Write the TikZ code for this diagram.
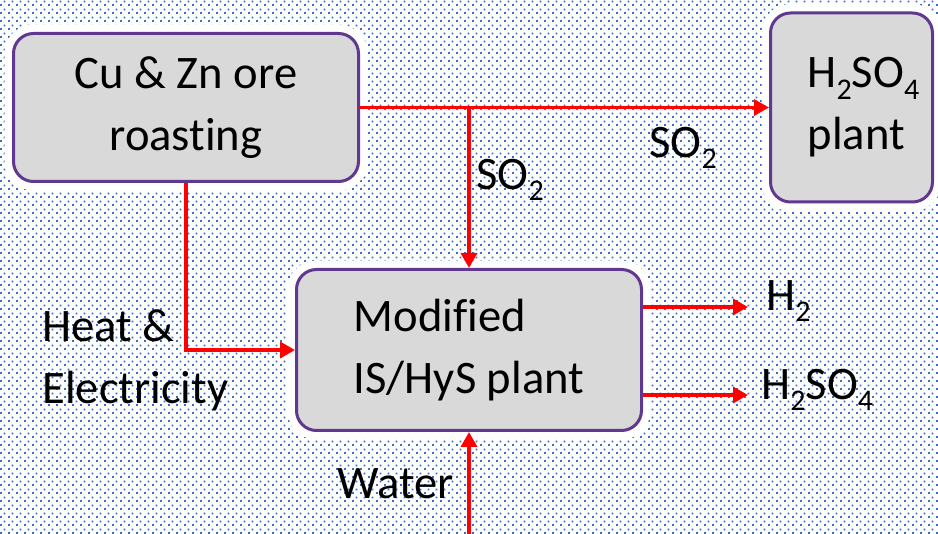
\documentclass[tikz,border=0pt]{standalone}
\usepackage{fontspec}
\setmainfont{Carlito}[Ligatures={NoCommon,NoContextual}]
\usepackage{tikz}
\usepackage{xcolor}
\usetikzlibrary{arrows.meta}
\usetikzlibrary{patterns.meta}

\definecolor{dotblue}{RGB}{58,108,196}
\definecolor{boxline}{RGB}{96,56,144}
\definecolor{boxfill}{RGB}{217,217,217}
\definecolor{flowred}{RGB}{255,0,0}
\newcommand{\chemsub}[1]{\raisebox{-0.24em}{\fontsize{15}{15}\selectfont #1}}

\tikzdeclarepattern{
	name=bgdots,
	type=colored,
	bottom left={(0pt,0pt)},
	top right={(3.75pt,3.75pt)},
	tile size={(3.75pt,3.75pt)},
	code={
		\fill[dotblue] (0pt,0pt) rectangle (1pt,1pt);
		\fill[dotblue] (1.875pt,1.875pt) rectangle (2.875pt,2.875pt);
	}
}

\begin{document}
\begin{tikzpicture}
	[x=0.5pt, y=-0.5pt, font=\fontsize{23.3}{31}\selectfont,
	main/.style = {draw=boxline, line width=1.5pt, fill=boxfill, rounded corners=10pt,
		preaction={draw=white, line width=9pt}, align=center},
	flow/.style = {draw=flowred, line width=1.75pt, ->},
	>={Triangle[length=7.5pt, width=8pt]},
	lbl/.style = {inner sep=0pt}]
	\useasboundingbox (0,0) rectangle (938,534);
	\fill[white] (0,0) rectangle (938,534);
	\fill[pattern=bgdots] (0,0) rectangle (938,534);
	\node[main, minimum width=172.5pt, minimum height=74pt] (1) at (186,107.5) {Cu \& Zn ore\\roasting};
	\node[main, minimum width=81pt, minimum height=94.5pt, align=left] (2) [right of = 1, node distance=332.75pt] {\hspace*{12pt}H\chemsub{2}SO\chemsub{4}\\\hspace*{12pt}plant};
	\node[main, minimum width=172.5pt, minimum height=80.5pt, align=left] (3) at (469,350) {Modified\\IS/HyS plant};
	\node[lbl, anchor=west, align=left] (4) at (42,360) {Heat \&\\Electricity};
	\node[lbl] (5) at (396,484) {Water};
	\node[lbl] (9) at (683,148) {SO\chemsub{2}};
	\node[lbl] (10) at (510,180) {SO\chemsub{2}};
	\node[lbl, anchor=west] (11) at (766,301) {H\chemsub{2}};
	\node[lbl, anchor=west] (12) at (761,390) {H\chemsub{2}SO\chemsub{4}};
	\coordinate (6) at (748,307);
	\coordinate (7) at (748,395);
	\coordinate (8) at (469,534);
	\draw[flow] (1.east) -- (1.east -| 2.west);
	\draw[flow] (3.north |- 1.east) -- (3.north);
	\draw[flow] (1.south) |- (3.west);
	\draw[flow] (3.east |- 6) -- (6);
	\draw[flow] (3.east |- 7) -- (7);
	\draw[flow] (8) -- (3.south);
\end{tikzpicture}
\end{document}
